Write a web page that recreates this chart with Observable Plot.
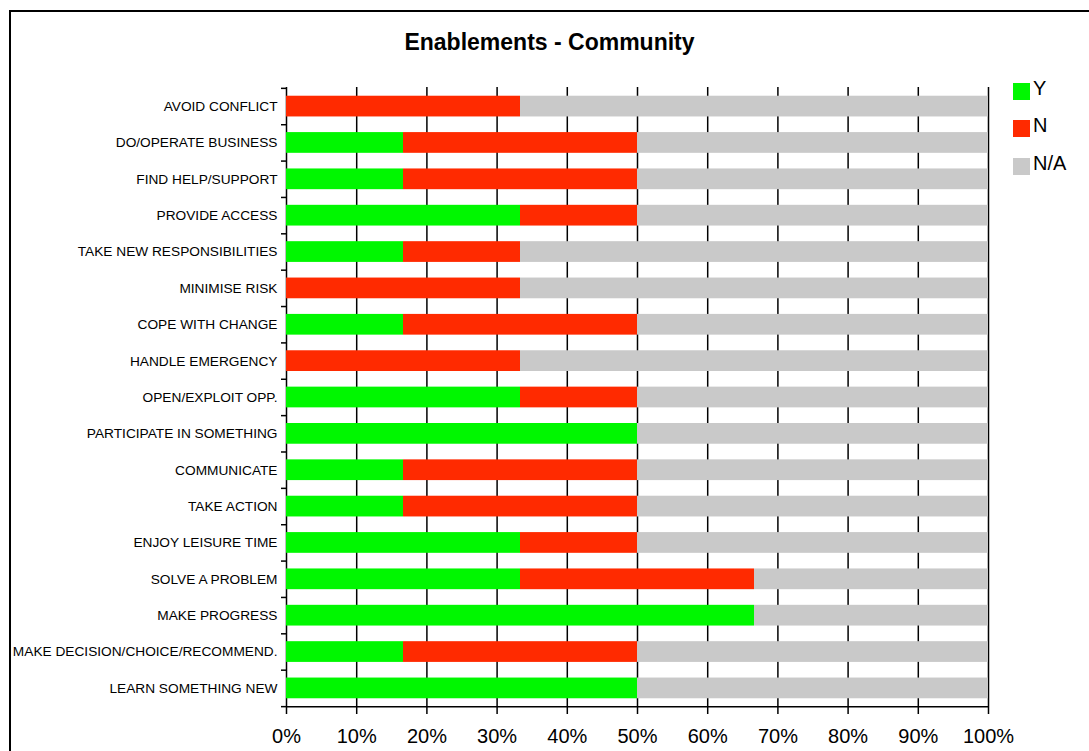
<!DOCTYPE html>
<html>
<head>
<meta charset="utf-8">
<script src="https://cdn.jsdelivr.net/npm/d3@7"></script>
<script src="https://cdn.jsdelivr.net/npm/@observablehq/plot@0.6"></script>
<style>
  html, body { margin: 0; padding: 0; background: #fff; width: 1089px; height: 751px; overflow: hidden; }
  #wrap { position: relative; width: 1089px; height: 751px; }
  #chart { position: absolute; left: 0; top: 0; }
  #border { position: absolute; left: 9px; top: 10px; width: 1200px; height: 900px; border: 2px solid #000; pointer-events: none; }
  #title { position: absolute; left: 0; width: 1099px; top: 29px; text-align: center; font-family: "Liberation Sans", Arial, sans-serif; font-weight: bold; font-size: 23px; color: #000; }
  .leg { position: absolute; left: 1013px; font-family: "Liberation Sans", Arial, sans-serif; font-size: 20px; color: #000; }
  .leg span.sw { position: absolute; left: 0; top: 6px; width: 17px; height: 17px; }
  .leg span.tx { position: absolute; left: 20px; top: 0; white-space: nowrap; }
</style>
</head>
<body>
<div id="wrap">
  <div id="chart"></div>
  <div id="title">Enablements - Community</div>
  <div id="legend"></div>
  <div id="border"></div>
</div>
<script>
const categories = [
  "AVOID CONFLICT",
  "DO/OPERATE BUSINESS",
  "FIND HELP/SUPPORT",
  "PROVIDE ACCESS",
  "TAKE NEW RESPONSIBILITIES",
  "MINIMISE RISK",
  "COPE WITH CHANGE",
  "HANDLE EMERGENCY",
  "OPEN/EXPLOIT OPP.",
  "PARTICIPATE IN SOMETHING",
  "COMMUNICATE",
  "TAKE ACTION",
  "ENJOY LEISURE TIME",
  "SOLVE A PROBLEM",
  "MAKE PROGRESS",
  "MAKE DECISION/CHOICE/RECOMMEND.",
  "LEARN SOMETHING NEW"
];
const seriesNames = ["Y", "N", "N/A"];
const seriesColors = ["#00f700", "#ff2a00", "#c9c9c9"];
const yesCounts = [0, 1, 1, 2, 1, 0, 1, 0, 2, 3, 1, 1, 2, 2, 4, 1, 3];
const noCounts  = [2, 2, 2, 1, 1, 2, 2, 2, 1, 0, 2, 2, 1, 2, 0, 2, 0];
const naCounts  = [4, 3, 3, 3, 4, 4, 3, 4, 3, 3, 3, 3, 3, 2, 2, 3, 3];
const xTicks = [0, 0.1, 0.2, 0.3, 0.4, 0.5, 0.6, 0.7, 0.8, 0.9, 1];

const data = categories.flatMap((c, i) => [
  {cat: c, resp: seriesNames[0], n: yesCounts[i]},
  {cat: c, resp: seriesNames[1], n: noCounts[i]},
  {cat: c, resp: seriesNames[2], n: naCounts[i]}
]);

const W = 1089, H = 751, mT = 87, mB = 44, mL = 286, mR = 101;
const step = (H - mT - mB) / categories.length;
const lastCat = categories[categories.length - 1];

const chart = Plot.plot({
  width: W, height: H,
  marginTop: mT, marginBottom: mB, marginLeft: mL, marginRight: mR,
  style: {fontFamily: "'Liberation Sans', Arial, sans-serif", fontSize: "13.7px", background: "transparent", color: "#000"},
  x: {domain: [0, 1], label: null},
  y: {domain: categories, paddingInner: 0.43, paddingOuter: 0.24, round: false, label: null},
  color: {domain: seriesNames, range: seriesColors},
  marks: [
    Plot.gridX(xTicks, {stroke: "#000", strokeOpacity: 1, strokeWidth: 1.5}),
    Plot.barX(data, Plot.stackX({x: "n", y: "cat", fill: "resp", offset: "normalize"})),
    Plot.ruleY([lastCat], {x1: 0, x2: 1, dy: step / 2, stroke: "#000", strokeWidth: 1.5}),
    Plot.axisY({tickSize: 0, tickPadding: 9, fontSize: 13.7}),
    Plot.axisY({tickSize: 5, tickFormat: () => "", dy: -step / 2, strokeWidth: 1.5}),
    Plot.axisY([lastCat], {tickSize: 5, tickFormat: () => "", dy: step / 2, strokeWidth: 1.5}),
    Plot.axisX(xTicks, {tickSize: 7, tickPadding: 14, fontSize: 20, tickFormat: d => Math.round(d * 100) + "%", strokeWidth: 1.5})
  ]
});
document.getElementById("chart").appendChild(chart);

const legend = document.getElementById("legend");
const legTops = [77, 114, 152];
seriesNames.forEach((name, i) => {
  const d = document.createElement("div");
  d.className = "leg";
  d.style.top = legTops[i] + "px";
  d.innerHTML = `<span class="sw" style="background:${seriesColors[i]}"></span><span class="tx">${name}</span>`;
  legend.appendChild(d);
});
</script>
</body>
</html>
